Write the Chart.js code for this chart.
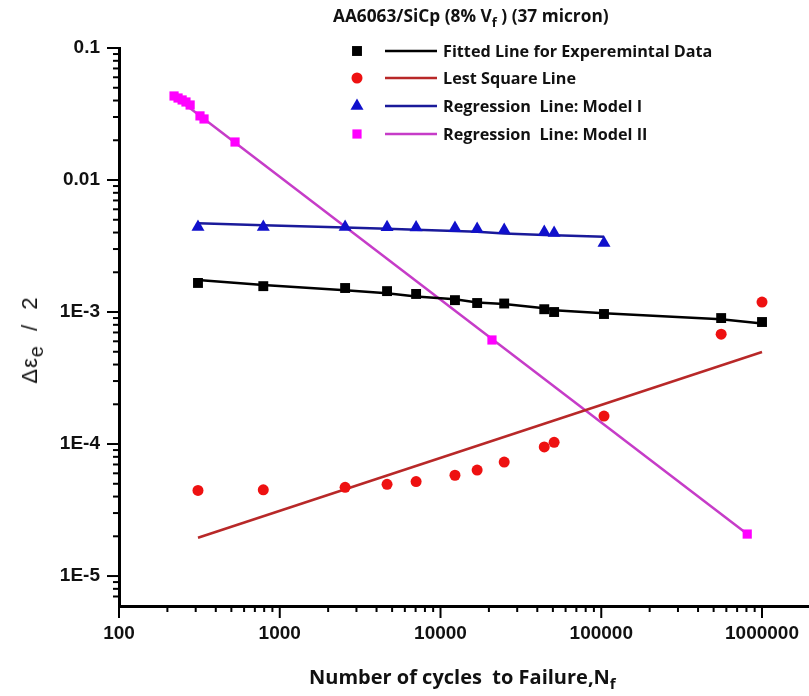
<!DOCTYPE html>
<html>
<head>
<meta charset="utf-8">
<script src="https://cdn.jsdelivr.net/npm/chart.js@4.4.0/dist/chart.umd.min.js"></script>
<style>
  html, body { margin: 0; padding: 0; background: #fff; }
  #wrap { position: relative; width: 809px; height: 696px; overflow: hidden; }
  #c { position: absolute; left: 0; top: 0; }
  .t { position: absolute; white-space: nowrap; color: #111; line-height: 1; }
  .t sub { font-size: 75%; vertical-align: -0.35em; line-height: 0; }
  #title { left: 333px; top: 4px; font: bold 17.3px "Open Sans", Lato, sans-serif; }
  #xtitle { left: 309px; top: 663px; font: bold 20px "Open Sans", Lato, sans-serif; }
  #ytitle { left: 30px; top: 340px; font: 22px "Liberation Sans", Arial, sans-serif;
            letter-spacing: 1px;
            transform: translate(-50%, -50%) rotate(-90deg); }
  #ytitle sub { font-size: 90%; vertical-align: -0.3em; }
</style>
</head>
<body>
<div id="wrap">
  <canvas id="c" width="809" height="696"></canvas>
  <div class="t" id="title">AA6063/SiCp (8% V<sub>f</sub> ) (37 micron)</div>
  <div class="t" id="ytitle">&Delta;&epsilon;<sub>e</sub>&nbsp;&nbsp;/&nbsp;&nbsp;2</div>
  <div class="t" id="xtitle">Number of cycles&nbsp; to Failure,N<sub>f</sub></div>
</div>
<script>
// ---- data ----
const cycles   = [310, 790, 2550, 4650, 7050, 12300, 16900, 24900, 44200, 50900, 104000, 557000, 1000000];
const expData  = [1.66e-3, 1.57e-3, 1.52e-3, 1.44e-3, 1.37e-3, 1.23e-3, 1.17e-3, 1.16e-3, 1.05e-3, 1.0e-3, 0.966e-3, 0.90e-3, 0.84e-3];
const expFit   = [1.75e-3, 1.60e-3, 1.46e-3, 1.39e-3, 1.31e-3, 1.25e-3, 1.18e-3, 1.15e-3, 1.07e-3, 1.03e-3, 0.98e-3, 0.88e-3, 0.82e-3];
const lsData   = [4.45e-5, 4.5e-5, 4.7e-5, 4.95e-5, 5.2e-5, 5.8e-5, 6.35e-5, 7.3e-5, 9.5e-5, 1.03e-4, 1.63e-4, 6.8e-4, 1.19e-3];
const lsLineX  = [310, 1000000];
const lsLineY  = [1.95e-5, 4.98e-4];
const m1Cycles = [310, 790, 2550, 4650, 7050, 12300, 16900, 24900, 44200, 50900, 104000];
const m1Data   = [4.40e-3, 4.40e-3, 4.40e-3, 4.38e-3, 4.36e-3, 4.33e-3, 4.26e-3, 4.18e-3, 4.04e-3, 3.96e-3, 3.33e-3];
const m1Line   = [4.70e-3, 4.54e-3, 4.36e-3, 4.28e-3, 4.20e-3, 4.11e-3, 4.06e-3, 3.94e-3, 3.83e-3, 3.81e-3, 3.71e-3];
const m2Cycles = [220, 233, 247, 261, 277, 319, 338, 527, 20900, 809000];
const m2Data   = [0.0433, 0.0418, 0.0404, 0.0390, 0.0370, 0.0306, 0.0290, 0.0194, 6.14e-4, 2.08e-5];
const m2LineX  = [220, 809000];
const m2LineY  = [0.0433, 2.08e-5];

const legendNames = ['Fitted Line for Experemintal Data', 'Lest Square Line', 'Regression  Line: Model I', 'Regression  Line: Model II'];
const xTickValues = [100, 1000, 10000, 100000, 1000000];
const xTickLabels = ['100', '1000', '10000', '100000', '1000000'];
const yTickValues = [0.1, 0.01, 0.001, 0.0001, 0.00001];
const yTickLabels = ['0.1', '0.01', '1E-3', '1E-4', '1E-5'];

const pts = (xs, ys) => xs.map((x, i) => ({ x, y: ys[i] }));
const near = (v, list) => list.findIndex(t => Math.abs(v / t - 1) < 1e-6);

// ---- tick marks (major longer than minor) ----
const tickMarks = {
  id: 'tickMarks',
  afterDraw(chart) {
    const ctx = chart.ctx;
    ctx.save();
    ctx.strokeStyle = '#000';
    ctx.lineWidth = 2;
    ['x', 'y'].forEach(id => {
      const s = chart.scales[id];
      s.ticks.forEach(t => {
        const e = Math.floor(Math.log10(t.value) + 1e-9);
        const sig = t.value / Math.pow(10, e);
        if (Math.abs(sig - Math.round(sig)) > 1e-6) return;
        const len = Math.abs(sig - 1) < 1e-6 ? 12 : 6;
        const p = s.getPixelForValue(t.value);
        ctx.beginPath();
        if (id === 'x') { ctx.moveTo(p, s.top); ctx.lineTo(p, s.top + len); }
        else { ctx.moveTo(s.right, p); ctx.lineTo(s.right - len, p); }
        ctx.stroke();
      });
    });
    ctx.restore();
  }
};

// ---- legend: marker + line + text ----
const legendBox = {
  id: 'legendBox',
  afterDraw(chart) {
    const ctx = chart.ctx;
    const rows = [51, 78, 106, 134];
    ctx.save();
    legendNames.forEach((name, i) => {
      const mk = chart.data.datasets[i * 2];
      const ln = chart.data.datasets[i * 2 + 1];
      const y = rows[i];
      ctx.fillStyle = mk.backgroundColor;
      ctx.strokeStyle = mk.borderColor;
      Chart.helpers.drawPoint(ctx, { pointStyle: mk.pointStyle, radius: mk.pointRadius, rotation: 0, borderWidth: 0 }, 357, y);
      ctx.strokeStyle = ln.borderColor;
      ctx.lineWidth = ln.borderWidth;
      ctx.beginPath(); ctx.moveTo(385, y); ctx.lineTo(437, y); ctx.stroke();
      ctx.fillStyle = '#111';
      ctx.font = 'bold 16.2px "Open Sans", Lato, sans-serif';
      ctx.textBaseline = 'middle';
      ctx.fillText(name, 443, y + 1);
    });
    ctx.restore();
  }
};

const markerSet = (label, data, color, style, r) => ({
  label, data, showLine: false, pointStyle: style, pointRadius: r, pointHoverRadius: r,
  backgroundColor: color, borderColor: color, borderWidth: 0, order: 1
});
const lineSet = (label, data, color, w) => ({
  label, data, showLine: true, pointRadius: 0, borderColor: color, backgroundColor: color,
  borderWidth: w, tension: 0, order: 2
});

new Chart(document.getElementById('c'), {
  type: 'scatter',
  data: {
    datasets: [
      markerSet('Experimental', pts(cycles, expData), '#000000', 'rect', 7),
      lineSet(legendNames[0], pts(cycles, expFit), '#000000', 2.5),
      markerSet('Least square data', pts(cycles, lsData), '#ee1111', 'circle', 5.5),
      lineSet(legendNames[1], pts(lsLineX, lsLineY), '#b82828', 2.5),
      markerSet('Model I data', pts(m1Cycles, m1Data), '#1010cc', 'triangle', 7.5),
      lineSet(legendNames[2], pts(m1Cycles, m1Line), '#1a1a9a', 2.5),
      markerSet('Model II data', pts(m2Cycles, m2Data), '#ff00ff', 'rect', 6.5),
      lineSet(legendNames[3], pts(m2LineX, m2LineY), '#c63cc8', 2.5)
    ]
  },
  options: {
    responsive: false,
    animation: false,
    devicePixelRatio: 1,
    layout: { autoPadding: false, padding: { top: 48, right: 0, left: 0, bottom: 0 } },
    plugins: { legend: { display: false }, tooltip: { enabled: false }, title: { display: false } },
    scales: {
      x: {
        type: 'logarithmic', min: 100, max: 1960000,
        afterFit: s => { s.height = 90; s.paddingLeft = 0; s.paddingRight = 0; },
        grid: { display: false, drawTicks: false },
        border: { display: true, color: '#000', width: 3 },
        ticks: {
          autoSkip: false, maxRotation: 0, padding: 16, color: '#111',
          font: { family: '"Liberation Sans", Arial, sans-serif', size: 19, weight: 'bold' },
          callback: v => { const k = near(v, xTickValues); return k >= 0 ? xTickLabels[k] : ''; }
        }
      },
      y: {
        type: 'logarithmic', min: 5.93e-6, max: 0.1,
        afterFit: s => { s.width = 119; },
        grid: { display: false, drawTicks: false },
        border: { display: true, color: '#000', width: 3 },
        ticks: {
          autoSkip: false, padding: 19, color: '#111',
          font: { family: '"Liberation Sans", Arial, sans-serif', size: 19, weight: 'bold' },
          callback: v => { const k = near(v, yTickValues); return k >= 0 ? yTickLabels[k] : ''; }
        }
      }
    }
  },
  plugins: [tickMarks, legendBox]
});
</script>
</body>
</html>
